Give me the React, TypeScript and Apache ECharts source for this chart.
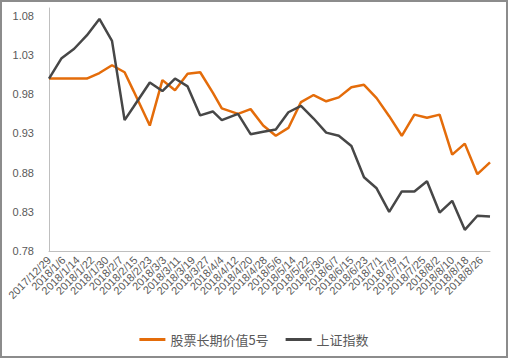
import React, { useEffect, useRef } from "react";
import * as echarts from "echarts";

// Weekly dates (last trading day of each week)
const dates = [
  "2017-12-29", "2018-01-05", "2018-01-12", "2018-01-19", "2018-01-26", "2018-02-02",
  "2018-02-09", "2018-02-14", "2018-02-23", "2018-03-02", "2018-03-09", "2018-03-16",
  "2018-03-23", "2018-03-30", "2018-04-04", "2018-04-13", "2018-04-20", "2018-04-27",
  "2018-05-04", "2018-05-11", "2018-05-18", "2018-05-25", "2018-06-01", "2018-06-08",
  "2018-06-15", "2018-06-22", "2018-06-29", "2018-07-06", "2018-07-13", "2018-07-20",
  "2018-07-27", "2018-08-03", "2018-08-10", "2018-08-17", "2018-08-24", "2018-08-31",
];

const fundValues = [
  1.0, 1.0, 1.0, 1.0, 1.007, 1.017,
  1.008, 0.984, 0.94, 0.998, 0.985, 1.006,
  1.008, 0.982, 0.962, 0.955, 0.961, 0.94,
  0.927, 0.937, 0.97, 0.979, 0.971, 0.976,
  0.989, 0.992, 0.975, 0.952, 0.927, 0.954,
  0.95, 0.954, 0.903, 0.917, 0.878, 0.893,
];

const indexValues = [
  1.0, 1.026, 1.038, 1.055, 1.076, 1.048,
  0.947, 0.964, 0.995, 0.984, 1.0, 0.99,
  0.953, 0.958, 0.947, 0.955, 0.929, 0.932,
  0.935, 0.957, 0.965, 0.949, 0.931, 0.927,
  0.914, 0.874, 0.86, 0.83, 0.856, 0.856,
  0.869, 0.829, 0.844, 0.807, 0.825, 0.824,
];

// Tick labels every 8 days from 2017/12/29
const xTickLabels = [
  "2017/12/29", "2018/1/6", "2018/1/14", "2018/1/22", "2018/1/30", "2018/2/7",
  "2018/2/15", "2018/2/23", "2018/3/3", "2018/3/11", "2018/3/19", "2018/3/27",
  "2018/4/4", "2018/4/12", "2018/4/20", "2018/4/28", "2018/5/6", "2018/5/14",
  "2018/5/22", "2018/5/30", "2018/6/7", "2018/6/15", "2018/6/23", "2018/7/1",
  "2018/7/9", "2018/7/17", "2018/7/25", "2018/8/2", "2018/8/10", "2018/8/18",
  "2018/8/26",
];

const yTickLabels = ["0.78", "0.83", "0.88", "0.93", "0.98", "1.03", "1.08"];

const seriesNames = ["股票长期价值5号", "上证指数"];
const seriesColors = ["#e46c0a", "#474747"];

const Y_BASE = 0.78;
const Y_TOP = 1.09;
const X_DAYS_MAX = 245;
const X_TICK_DAYS = 8;

function dayOffset(s: string): number {
  const [y, m, d] = s.split("-").map(Number);
  return Math.round((Date.UTC(y, m - 1, d) - Date.UTC(2017, 11, 29)) / 86400000);
}

export default function App() {
  const ref = useRef<HTMLDivElement>(null);

  useEffect(() => {
    document.body.style.margin = "0";
    if (!ref.current) return;
    const chart = echarts.init(ref.current, undefined, { renderer: "svg" });
    const toY = (v: number) => Math.round((v - Y_BASE) * 100000) / 1000;
    const build = (vals: number[]) => dates.map((d, i) => [dayOffset(d), toY(vals[i])]);
    const font = "'Liberation Sans', Arial, sans-serif";

    const gridLeft = 49;
    const gridRight = 18;
    const plotWidth = 508 - gridLeft - gridRight;
    const labelSpanDays = (xTickLabels.length - 1) * X_TICK_DAYS;
    const labelGridWidth = (plotWidth * labelSpanDays) / X_DAYS_MAX;

    chart.setOption({
      animation: false,
      backgroundColor: "#ffffff",
      grid: [
        { left: gridLeft, right: gridRight, top: 8, bottom: 107 },
        { left: gridLeft, width: labelGridWidth, top: 8, bottom: 107 },
      ],
      xAxis: [
        {
          type: "value",
          gridIndex: 0,
          min: 0,
          max: X_DAYS_MAX,
          interval: X_TICK_DAYS,
          axisLine: { show: true, lineStyle: { color: "#bfbfbf", width: 1 } },
          axisTick: { show: false },
          splitLine: { show: false },
          axisLabel: { show: false },
        },
        {
          type: "category",
          gridIndex: 1,
          data: xTickLabels,
          boundaryGap: false,
          axisLine: { show: false },
          axisTick: { show: false },
          splitLine: { show: false },
          axisLabel: {
            interval: 0,
            rotate: 45,
            margin: 7,
            color: "#595959",
            fontSize: 11,
            fontFamily: font,
          },
        },
      ],
      yAxis: [
        {
          type: "value",
          gridIndex: 0,
          min: 0,
          max: toY(Y_TOP),
          interval: 5,
          axisLine: { show: true, lineStyle: { color: "#bfbfbf", width: 1 } },
          axisTick: { show: false },
          splitLine: { show: false },
          axisLabel: {
            margin: 15,
            color: "#595959",
            fontSize: 11,
            fontFamily: font,
            showMinLabel: true,
            showMaxLabel: false,
            formatter: (v: number) => (v % 5 === 0 ? yTickLabels[v / 5] ?? "" : ""),
          },
        },
        {
          type: "value",
          gridIndex: 1,
          show: false,
        },
      ],
      legend: {
        top: 328,
        left: "center",
        itemWidth: 26,
        itemHeight: 3,
        itemGap: 17,
        icon: "rect",
        textStyle: { color: "#595959", fontSize: 13, fontFamily: "'Noto Sans CJK SC', sans-serif" },
        data: seriesNames.map((n, i) => ({ name: n, icon: "rect", itemStyle: { color: seriesColors[i] } })),
      },
      series: [
        {
          name: seriesNames[0],
          type: "line",
          xAxisIndex: 0,
          yAxisIndex: 0,
          data: build(fundValues),
          symbol: "none",
          lineStyle: { color: seriesColors[0], width: 2.5 },
          itemStyle: { color: seriesColors[0] },
        },
        {
          name: seriesNames[1],
          type: "line",
          xAxisIndex: 0,
          yAxisIndex: 0,
          data: build(indexValues),
          symbol: "none",
          lineStyle: { color: seriesColors[1], width: 2.5 },
          itemStyle: { color: seriesColors[1] },
        },
      ],
      graphic: [
        {
          type: "rect",
          shape: { x: 1, y: 1, width: 506, height: 356 },
          style: { fill: "none", stroke: "#8c8c8c", lineWidth: 2 },
          silent: true,
        },
      ],
    });
    return () => chart.dispose();
  }, []);

  return <div ref={ref} style={{ width: 508, height: 358 }} />;
}
